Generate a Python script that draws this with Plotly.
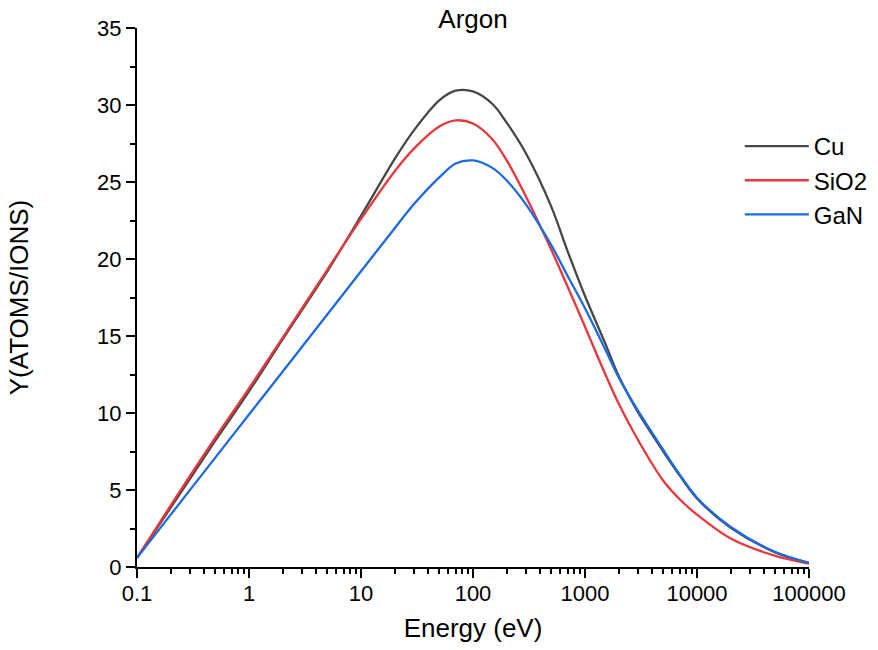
import plotly.graph_objects as go

energy = [0.1, 0.2, 0.5, 1, 2, 5, 10, 20, 30, 50, 70, 100, 150, 200, 300, 500, 700,
          1000, 1500, 2000, 3000, 5000, 7000, 10000, 20000, 50000, 100000]

cu = [0.6, 3.85, 8.2, 11.4, 14.8, 19.2, 22.8, 26.5, 28.4, 30.3, 30.93, 30.88, 30.05,
      28.85, 26.8, 23.4, 20.5, 17.6, 14.6, 12.4, 10.0, 7.5, 5.95, 4.45, 2.55, 0.95, 0.26]
sio2 = [0.6, 4.0, 8.4, 11.6, 14.9, 19.3, 22.6, 25.7, 27.2, 28.6, 29.0, 28.8, 27.75,
        26.4, 24.0, 20.6, 18.2, 15.6, 12.6, 10.6, 8.2, 5.6, 4.4, 3.4, 1.85, 0.72, 0.22]
gan = [0.6, 3.4, 7.1, 9.9, 12.7, 16.4, 19.2, 22.0, 23.6, 25.3, 26.2, 26.4, 25.9,
       25.1, 23.5, 20.9, 18.9, 16.8, 14.2, 12.3, 10.1, 7.6, 6.0, 4.5, 2.6, 0.97, 0.27]

series_names = ["Cu", "SiO2", "GaN"]
series_values = [cu, sio2, gan]
series_colors = ["#474747", "#e8383d", "#1c6ae0"]

x_tickvals = [0.1, 1, 10, 100, 1000, 10000, 100000]
x_ticktext = ["0.1", "1", "10", "100", "1000", "10000", "100000"]
y_tickvals = [0, 5, 10, 15, 20, 25, 30, 35]

FONT = "Liberation Sans, Arial, sans-serif"

fig = go.Figure()
for name, vals, col in zip(series_names, series_values, series_colors):
    fig.add_trace(go.Scatter(x=energy, y=vals, name=name, mode="lines",
                             line=dict(color=col, width=2.3, shape="spline", smoothing=0.9)))

fig.update_layout(
    width=878, height=650,
    margin=dict(l=137, r=69, t=28, b=83, autoexpand=False),
    paper_bgcolor="white", plot_bgcolor="white",
    font=dict(family=FONT, color="black"),
    title=dict(text="Argon", x=(137 + 809) / 2 / 878, xanchor="center",
               y=1 - 19 / 650, yanchor="middle", font=dict(size=26)),
    legend=dict(x=0.897, y=0.822, xanchor="left", yanchor="top",
                font=dict(size=24), itemwidth=64, tracegroupgap=0,
                bgcolor="rgba(0,0,0,0)"),
    showlegend=True,
)

fig.update_xaxes(
    type="log", range=[-1, 5], showgrid=False, zeroline=False, automargin=False,
    showline=True, linecolor="black", linewidth=2,
    ticks="outside", ticklen=9, tickwidth=2, tickcolor="black",
    tickvals=x_tickvals, ticktext=x_ticktext, tickfont=dict(size=22),
    ticklabelstandoff=-3,
    minor=dict(ticks="outside", ticklen=5, tickwidth=1.5, tickcolor="black",
               dtick="D1", showgrid=False),
    title=dict(text="Energy (eV)", font=dict(size=26), standoff=13),
)
fig.update_yaxes(
    range=[0, 35], showgrid=False, zeroline=False, automargin=False,
    showline=True, linecolor="black", linewidth=2,
    ticks="outside", ticklen=9, tickwidth=2, tickcolor="black",
    tickvals=y_tickvals, tickfont=dict(size=22),
    minor=dict(ticks="outside", ticklen=5, tickwidth=1.5, tickcolor="black",
               dtick=2.5, showgrid=False),
    title=dict(text="Y(ATOMS/IONS)", font=dict(size=26), standoff=61),
)

fig.write_html("out.html")
